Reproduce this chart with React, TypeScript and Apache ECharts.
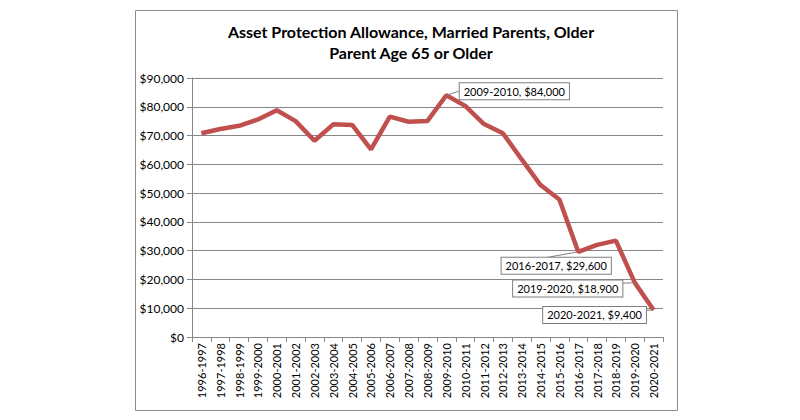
import React, { useEffect, useRef } from "react";
import * as echarts from "echarts";

const categories = [
  "1996-1997", "1997-1998", "1998-1999", "1999-2000", "2000-2001", "2001-2002",
  "2002-2003", "2003-2004", "2004-2005", "2005-2006", "2006-2007", "2007-2008",
  "2008-2009", "2009-2010", "2010-2011", "2011-2012", "2012-2013", "2013-2014",
  "2014-2015", "2015-2016", "2016-2017", "2017-2018", "2018-2019", "2019-2020",
  "2020-2021",
];

const allowance = [
  70800, 72300, 73400, 75600, 78800, 75000, 68200, 73900, 73700, 65200, 76600,
  74800, 75100, 84000, 80300, 74000, 70800, 61700, 52800, 47800, 29600, 32000,
  33500, 18900, 9400,
];

const yTicks = [0, 10000, 20000, 30000, 40000, 50000, 60000, 70000, 80000, 90000];

const titleLines = ["Asset Protection Allowance, Married Parents, Older", "Parent Age 65 or Older"];

// annotated points and their callout offsets
const annotated = [13, 20, 23, 24];
const calloutOffsets: Record<number, [number, number]> = {
  13: [68, -4],
  20: [-22, 14],
  23: [-67, 6],
  24: [-59, 5],
};

const FONT = "Lato, 'Open Sans', sans-serif";

export default function App() {
  const ref = useRef<HTMLDivElement>(null);
  useEffect(() => {
    if (!ref.current) return;
    const chart = echarts.init(ref.current, undefined, { renderer: "svg" });
    const fmt = (v: number) => "$" + v.toLocaleString("en-US");
    chart.setOption({
      animation: false,
      backgroundColor: "#ffffff",
      textStyle: { fontFamily: FONT },
      title: {
        text: titleLines.join("\n"),
        left: 406,
        textAlign: "center",
        top: 16,
        textStyle: {
          fontFamily: FONT,
          fontSize: 16,
          fontWeight: "bold",
          color: "#000",
          lineHeight: 21,
        },
      },
      graphic: [
        {
          type: "rect",
          shape: { x: 135.5, y: 10.5, width: 542, height: 400 },
          style: { fill: "none", stroke: "#8c8c8c", lineWidth: 1 },
          silent: true,
          z: -1,
        },
      ],
      grid: { left: 192, right: 137, top: 78, bottom: 83 },
      xAxis: {
        type: "category",
        data: categories,
        boundaryGap: true,
        axisLine: { lineStyle: { color: "#868686", width: 1 } },
        axisTick: { show: true, alignWithLabel: false, length: 5, lineStyle: { color: "#868686" } },
        axisLabel: {
          rotate: 90,
          interval: 0,
          fontSize: 11,
          color: "#000",
          fontFamily: FONT,
          margin: 6,
        },
      },
      yAxis: {
        type: "value",
        min: 0,
        max: 90000,
        interval: 10000,
        axisLine: { show: true, lineStyle: { color: "#868686", width: 1 } },
        axisTick: { show: true, length: 5, lineStyle: { color: "#868686" } },
        splitLine: { show: true, lineStyle: { color: "#868686", width: 1 } },
        axisLabel: {
          fontSize: 12,
          color: "#000",
          fontFamily: FONT,
          margin: 8,
          formatter: (v: number) => (yTicks.includes(v) ? fmt(v) : ""),
        },
      },
      series: [
        {
          type: "line",
          data: allowance.map((v, i) => ({
            value: v,
            label: annotated.includes(i)
              ? {
                  show: true,
                  position: "inside",
                  formatter: `${categories[i]}, ${fmt(v)}`,
                  backgroundColor: "#ffffff",
                  borderColor: "#7f7f7f",
                  borderWidth: 1,
                  padding: [3, 4, 2, 4],
                  fontSize: 11,
                  color: "#000",
                  fontFamily: FONT,
                }
              : { show: false },
          })),
          symbol: "circle",
          symbolSize: 0,
          lineStyle: { color: "#C0504D", width: 4.5 },
          itemStyle: { color: "#C0504D" },
          labelLine: { show: true, lineStyle: { color: "#7f7f7f", width: 1 } },
          labelLayout: (params: any) => {
            const off = calloutOffsets[params.dataIndex];
            if (!off) return {};
            return { dx: off[0], dy: off[1] };
          },
          z: 3,
        },
      ],
    });
    return () => chart.dispose();
  }, []);
  return (
    <div
      ref={ref}
      style={{ position: "absolute", left: 0, top: 0, width: 800, height: 420 }}
    />
  );
}
